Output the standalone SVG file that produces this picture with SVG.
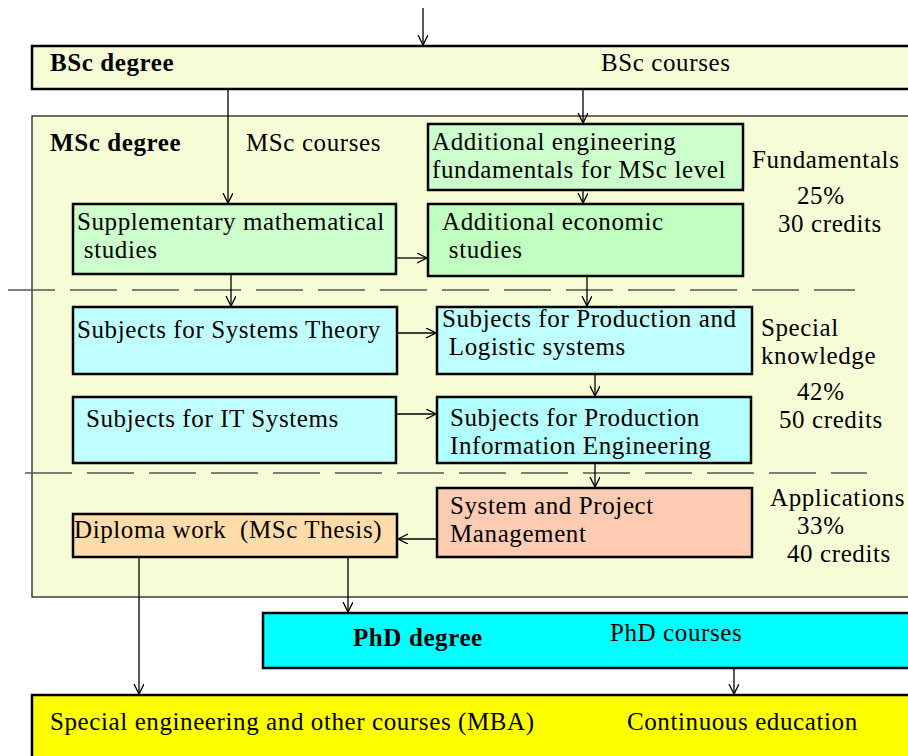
<svg xmlns="http://www.w3.org/2000/svg" width="908" height="756" viewBox="0 0 908 756">
<defs>
<marker id="ah" markerWidth="20" markerHeight="20" refX="10" refY="5" orient="auto" markerUnits="userSpaceOnUse" viewBox="0 0 20 20">
<polyline points="0,0 10,5 0,10" fill="none" stroke="#000" stroke-width="1.3"/>
</marker>
<style>
text{font-family:"Liberation Serif","Times New Roman",serif;font-size:25px;fill:#000;white-space:pre;letter-spacing:0.6px}
.b{font-weight:bold}
.box{stroke:#000;stroke-width:2.5}
.frame{stroke:#222;stroke-width:1.3}
.c{fill:none;stroke:#000;stroke-width:1.3;marker-end:url(#ah)}
.dash{fill:none;stroke:#555;stroke-width:1.3;stroke-dasharray:47 15}
</style>
</defs>
<rect width="908" height="756" fill="#fff"/>
<g id="msc">
<rect class="frame" x="32" y="116" width="890" height="481" fill="#f6fdd6"/>
<text class="b" x="50" y="151">MSc degree</text>
<text x="246" y="151">MSc courses</text>
</g>
<g id="bsc">
<rect class="box" x="32" y="46" width="890" height="43" fill="#f6fdd6"/>
<text class="b" x="50" y="71">BSc degree</text>
<text x="601" y="71">BSc courses</text>
</g>
<g id="separators">
<line class="dash" x1="8" y1="290" x2="855" y2="290"/>
<line class="dash" x1="25" y1="473" x2="867" y2="473"/>
</g>
<g id="fundamentals-label">
<text x="752" y="168">Fundamentals</text>
<text x="797" y="204">25%</text>
<text x="778" y="232">30 credits</text>
</g>
<g id="special-label">
<text x="761" y="336">Special</text>
<text x="761" y="364">knowledge</text>
<text x="797" y="400">42%</text>
<text x="779" y="428">50 credits</text>
</g>
<g id="applications-label">
<text x="770" y="506">Applications</text>
<text x="797" y="534">33%</text>
<text x="787" y="562">40 credits</text>
</g>
<g id="add-eng">
<rect class="box" x="428" y="124" width="315" height="66" fill="#ccffcc"/>
<text x="432" y="150">Additional engineering</text>
<text x="432" y="178">fundamentals for MSc level</text>
</g>
<g id="supp-math">
<rect class="box" x="73" y="204" width="323" height="70" fill="#ccffcc"/>
<text x="77" y="230">Supplementary mathematical</text>
<text x="77" y="258"> studies</text>
</g>
<g id="add-econ">
<rect class="box" x="428" y="204" width="315" height="72" fill="#c0ffc0"/>
<text x="442" y="230">Additional economic</text>
<text x="442" y="258"> studies</text>
</g>
<g id="sys-theory">
<rect class="box" x="73" y="307" width="324" height="67" fill="#c0ffff"/>
<text x="77" y="338">Subjects for Systems Theory</text>
</g>
<g id="prod-log">
<rect class="box" x="437" y="307" width="315" height="67" fill="#c0ffff"/>
<text x="442" y="327">Subjects for Production and</text>
<text x="442" y="355"> Logistic systems</text>
</g>
<g id="it-sys">
<rect class="box" x="73" y="397" width="323" height="66" fill="#c0ffff"/>
<text x="86" y="427">Subjects for IT Systems</text>
</g>
<g id="prod-info">
<rect class="box" x="437" y="397" width="314" height="66" fill="#b3ffff"/>
<text x="450" y="426">Subjects for Production</text>
<text x="450" y="454">Information Engineering</text>
</g>
<g id="sys-proj">
<rect class="box" x="437" y="488" width="315" height="69" fill="#ffccb3"/>
<text x="450" y="514">System and Project</text>
<text x="450" y="542">Management</text>
</g>
<g id="diploma">
<rect class="box" x="73" y="514" width="324" height="43" fill="#ffdcaa"/>
<text x="74" y="538">Diploma work  (MSc Thesis)</text>
</g>
<g id="phd">
<rect class="box" x="263" y="613" width="660" height="55" fill="#00ffff"/>
<text class="b" x="353" y="646">PhD degree</text>
<text x="610" y="641">PhD courses</text>
</g>
<g id="continuing">
<rect class="box" x="32" y="695" width="890" height="80" fill="#ffff00"/>
<text x="50" y="730">Special engineering and other courses (MBA)</text>
<text x="627" y="730">Continuous education</text>
</g>
<g id="connectors">
<path class="c" d="M423,8 V45"/>
<path class="c" d="M228,89 V203"/>
<path class="c" d="M583,89 V123"/>
<path class="c" d="M583,191 V203"/>
<path class="c" d="M396,258 H427"/>
<path class="c" d="M231,274 V306"/>
<path class="c" d="M587,276 V306"/>
<path class="c" d="M397,333 H436"/>
<path class="c" d="M595,374 V396"/>
<path class="c" d="M396,414 H436"/>
<path class="c" d="M595,463 V487"/>
<path class="c" d="M437,539 H398"/>
<path class="c" d="M348,557 V612"/>
<path class="c" d="M139,557 V694"/>
<path class="c" d="M734,668 V694"/>
</g>
</svg>
